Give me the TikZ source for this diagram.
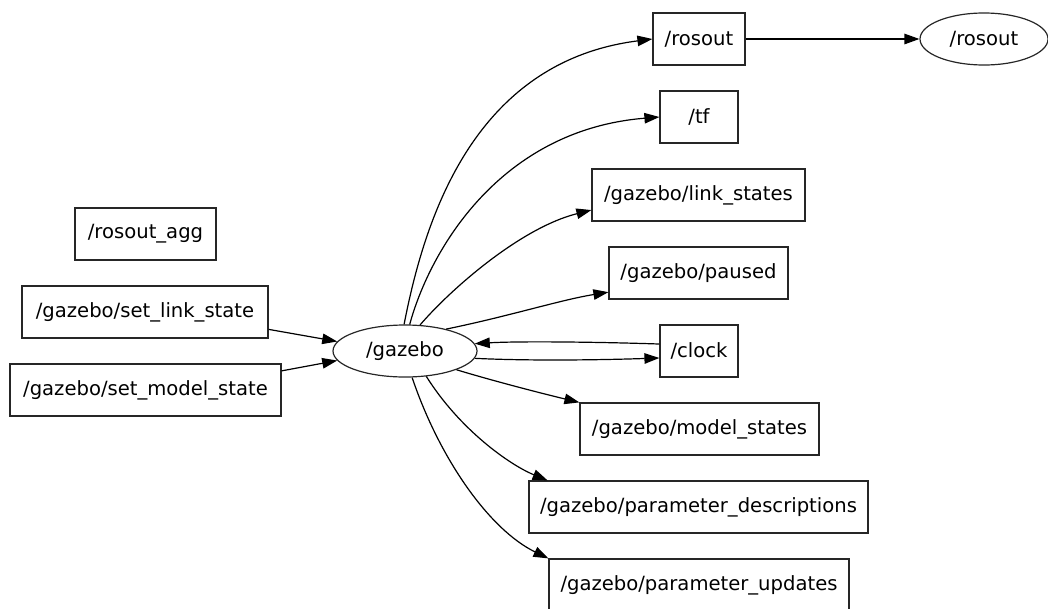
\documentclass[tikz,border=0pt]{standalone}
\usepackage{fontspec}
\setmainfont{DejaVu Sans}
\usetikzlibrary{shapes.geometric,arrows.meta}
\begin{document}
\begin{tikzpicture}[x=1pt,y=-1pt,
  every node/.style={font=\fontsize{19.6}{24}\selectfont, inner sep=0pt, draw=black!85, line width=1.2pt},
  topic/.style={rectangle, minimum height=52pt},
  rosnode/.style={ellipse, minimum height=52pt},
  conn/.style={line width=1.2pt, -{Triangle[length=15pt,width=10.5pt]}}
]
\useasboundingbox (0,0) rectangle (1048,608);
% nodes
\node[topic, minimum width=92pt]  (rosoutT) at (699,39)   {/rosout};
\node[rosnode, minimum width=128pt] (rosoutN) at (984,39) {/rosout};
\node[topic, minimum width=78pt]  (tf)      at (699,117)  {/tf};
\node[topic, minimum width=213pt] (link)    at (698.5,195) {/gazebo/link\_states};
\node[topic, minimum width=179pt] (paused)  at (698.5,273) {/gazebo/paused};
\node[topic, minimum width=78pt]  (clock)   at (699,351)  {/clock};
\node[topic, minimum width=239pt] (model)   at (699.5,429) {/gazebo/model\_states};
\node[topic, minimum width=339pt] (pdesc)   at (698.5,507) {/gazebo/parameter\_descriptions};
\node[topic, minimum width=300pt] (pupd)    at (699,585)  {/gazebo/parameter\_updates};
\node[rosnode, minimum width=144pt] (gazebo) at (405,351) {/gazebo};
\node[topic, minimum width=141pt] (agg)     at (145.5,234) {/rosout\_agg};
\node[topic, minimum width=246pt] (setlink) at (145,312)  {/gazebo/set\_link\_state};
\node[topic, minimum width=271pt] (setmodel) at (145.5,390) {/gazebo/set\_model\_state};
% connectors
\draw[conn] (rosoutT.east) -- (rosoutN.west);
\draw[conn] (gazebo.92) .. controls (424,222) and (472,62) .. (rosoutT.west);
\draw[conn] (gazebo.80) .. controls (430,250) and (500,130) .. (tf.west);
\draw[conn] (gazebo.60) .. controls (450,290) and (520,228) .. (link.188.5);
\draw[conn] (gazebo.28) .. controls (510,316) and (560,300) .. (paused.192);
\draw[conn] (clock.170) .. controls (600,342) and (520,341) .. (gazebo.6);
\draw[conn] (gazebo.-6) .. controls (530,361) and (600,360) .. (clock.-170);
\draw[conn] (gazebo.-20) .. controls (490,380) and (540,393) .. (model.north west);
\draw[conn] (gazebo.-50) .. controls (460,430) and (510,465) .. (pdesc.170);
\draw[conn] (gazebo.-75) .. controls (440,460) and (490,530) .. (pupd.north west);
\draw[conn] (setlink.-8) -- (gazebo.172);
\draw[conn] (setmodel.8) -- (gazebo.188);
\end{tikzpicture}
\end{document}
